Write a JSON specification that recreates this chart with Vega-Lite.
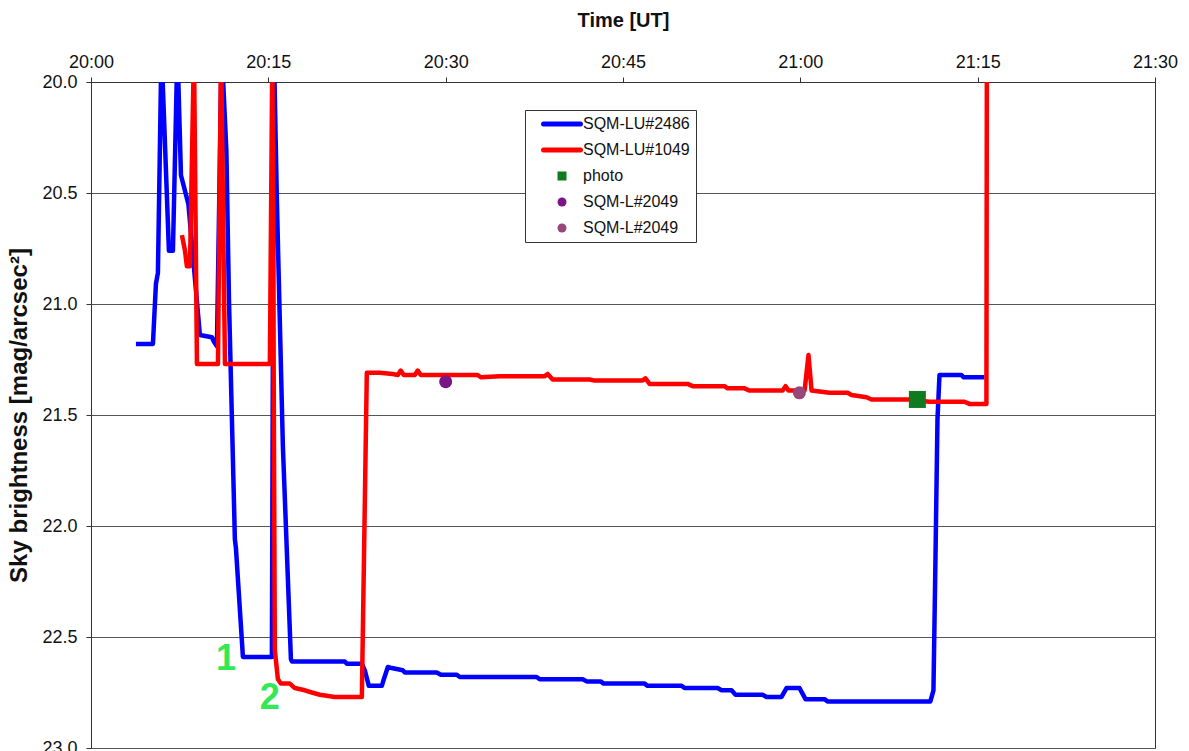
{
  "$schema": "https://vega.github.io/schema/vega-lite/v6.json",
  "autosize": "none",
  "width": 1064,
  "height": 666,
  "padding": {"left": 91, "top": 82, "right": 34, "bottom": 3},
  "background": "white",
  "config": {
    "font": "Liberation Sans",
    "view": {"stroke": "#333333", "strokeWidth": 1},
    "axis": {"labelFont": "Liberation Sans", "titleFont": "Liberation Sans", "labelColor": "#111", "titleColor": "#111", "domainColor": "#333", "tickColor": "#333", "tickSize": 5}
  },
  "datasets": {
    "series": [
      {"series": "SQM-LU#2486", "t": 3.80, "v": 21.18},
      {"series": "SQM-LU#2486", "t": 5.24, "v": 21.18},
      {"series": "SQM-LU#2486", "t": 5.49, "v": 20.91},
      {"series": "SQM-LU#2486", "t": 5.66, "v": 20.86},
      {"series": "SQM-LU#2486", "t": 5.96, "v": 19.85},
      {"series": "SQM-LU#2486", "t": 6.59, "v": 20.76},
      {"series": "SQM-LU#2486", "t": 6.93, "v": 20.76},
      {"series": "SQM-LU#2486", "t": 7.31, "v": 19.85},
      {"series": "SQM-LU#2486", "t": 7.61, "v": 20.42},
      {"series": "SQM-LU#2486", "t": 8.24, "v": 20.55},
      {"series": "SQM-LU#2486", "t": 9.21, "v": 21.14},
      {"series": "SQM-LU#2486", "t": 10.23, "v": 21.15},
      {"series": "SQM-LU#2486", "t": 10.40, "v": 21.17},
      {"series": "SQM-LU#2486", "t": 10.65, "v": 21.19},
      {"series": "SQM-LU#2486", "t": 11.05, "v": 19.85},
      {"series": "SQM-LU#2486", "t": 11.45, "v": 20.31},
      {"series": "SQM-LU#2486", "t": 11.67, "v": 20.98},
      {"series": "SQM-LU#2486", "t": 11.92, "v": 21.52},
      {"series": "SQM-LU#2486", "t": 12.17, "v": 22.06},
      {"series": "SQM-LU#2486", "t": 12.26, "v": 22.10},
      {"series": "SQM-LU#2486", "t": 12.85, "v": 22.59},
      {"series": "SQM-LU#2486", "t": 15.30, "v": 22.59},
      {"series": "SQM-LU#2486", "t": 15.47, "v": 19.85},
      {"series": "SQM-LU#2486", "t": 15.72, "v": 20.53},
      {"series": "SQM-LU#2486", "t": 16.23, "v": 21.64},
      {"series": "SQM-LU#2486", "t": 16.91, "v": 22.60},
      {"series": "SQM-LU#2486", "t": 16.99, "v": 22.61},
      {"series": "SQM-LU#2486", "t": 21.47, "v": 22.61},
      {"series": "SQM-LU#2486", "t": 21.64, "v": 22.62},
      {"series": "SQM-LU#2486", "t": 22.91, "v": 22.62},
      {"series": "SQM-LU#2486", "t": 23.16, "v": 22.65},
      {"series": "SQM-LU#2486", "t": 23.50, "v": 22.72},
      {"series": "SQM-LU#2486", "t": 24.60, "v": 22.72},
      {"series": "SQM-LU#2486", "t": 24.77, "v": 22.69},
      {"series": "SQM-LU#2486", "t": 25.11, "v": 22.635},
      {"series": "SQM-LU#2486", "t": 25.44, "v": 22.64},
      {"series": "SQM-LU#2486", "t": 26.37, "v": 22.65},
      {"series": "SQM-LU#2486", "t": 26.54, "v": 22.66},
      {"series": "SQM-LU#2486", "t": 29.25, "v": 22.66},
      {"series": "SQM-LU#2486", "t": 29.59, "v": 22.67},
      {"series": "SQM-LU#2486", "t": 30.94, "v": 22.67},
      {"series": "SQM-LU#2486", "t": 31.19, "v": 22.68},
      {"series": "SQM-LU#2486", "t": 37.70, "v": 22.68},
      {"series": "SQM-LU#2486", "t": 37.95, "v": 22.69},
      {"series": "SQM-LU#2486", "t": 41.59, "v": 22.69},
      {"series": "SQM-LU#2486", "t": 41.93, "v": 22.70},
      {"series": "SQM-LU#2486", "t": 43.11, "v": 22.70},
      {"series": "SQM-LU#2486", "t": 43.36, "v": 22.71},
      {"series": "SQM-LU#2486", "t": 46.83, "v": 22.71},
      {"series": "SQM-LU#2486", "t": 47.08, "v": 22.72},
      {"series": "SQM-LU#2486", "t": 49.96, "v": 22.72},
      {"series": "SQM-LU#2486", "t": 50.21, "v": 22.73},
      {"series": "SQM-LU#2486", "t": 53.00, "v": 22.73},
      {"series": "SQM-LU#2486", "t": 53.34, "v": 22.74},
      {"series": "SQM-LU#2486", "t": 54.18, "v": 22.74},
      {"series": "SQM-LU#2486", "t": 54.52, "v": 22.76},
      {"series": "SQM-LU#2486", "t": 56.80, "v": 22.76},
      {"series": "SQM-LU#2486", "t": 57.14, "v": 22.77},
      {"series": "SQM-LU#2486", "t": 58.41, "v": 22.77},
      {"series": "SQM-LU#2486", "t": 58.83, "v": 22.73},
      {"series": "SQM-LU#2486", "t": 59.93, "v": 22.73},
      {"series": "SQM-LU#2486", "t": 60.44, "v": 22.78},
      {"series": "SQM-LU#2486", "t": 62.05, "v": 22.78},
      {"series": "SQM-LU#2486", "t": 62.30, "v": 22.79},
      {"series": "SQM-LU#2486", "t": 71.00, "v": 22.79},
      {"series": "SQM-LU#2486", "t": 71.26, "v": 22.74},
      {"series": "SQM-LU#2486", "t": 71.43, "v": 22.15},
      {"series": "SQM-LU#2486", "t": 71.60, "v": 21.52},
      {"series": "SQM-LU#2486", "t": 71.77, "v": 21.32},
      {"series": "SQM-LU#2486", "t": 73.63, "v": 21.32},
      {"series": "SQM-LU#2486", "t": 73.80, "v": 21.33},
      {"series": "SQM-LU#2486", "t": 75.57, "v": 21.33},
      {"series": "SQM-LU#1049", "t": 7.69, "v": 20.69},
      {"series": "SQM-LU#1049", "t": 7.95, "v": 20.76},
      {"series": "SQM-LU#1049", "t": 8.11, "v": 20.83},
      {"series": "SQM-LU#1049", "t": 8.37, "v": 20.83},
      {"series": "SQM-LU#1049", "t": 8.71, "v": 19.85},
      {"series": "SQM-LU#1049", "t": 8.96, "v": 21.27},
      {"series": "SQM-LU#1049", "t": 10.74, "v": 21.27},
      {"series": "SQM-LU#1049", "t": 11.00, "v": 19.85},
      {"series": "SQM-LU#1049", "t": 11.33, "v": 21.27},
      {"series": "SQM-LU#1049", "t": 15.13, "v": 21.27},
      {"series": "SQM-LU#1049", "t": 15.34, "v": 19.85},
      {"series": "SQM-LU#1049", "t": 15.55, "v": 22.56},
      {"series": "SQM-LU#1049", "t": 15.81, "v": 22.69},
      {"series": "SQM-LU#1049", "t": 16.06, "v": 22.71},
      {"series": "SQM-LU#1049", "t": 16.82, "v": 22.71},
      {"series": "SQM-LU#1049", "t": 17.24, "v": 22.73},
      {"series": "SQM-LU#1049", "t": 18.09, "v": 22.74},
      {"series": "SQM-LU#1049", "t": 18.68, "v": 22.75},
      {"series": "SQM-LU#1049", "t": 19.36, "v": 22.76},
      {"series": "SQM-LU#1049", "t": 20.63, "v": 22.77},
      {"series": "SQM-LU#1049", "t": 22.91, "v": 22.77},
      {"series": "SQM-LU#1049", "t": 23.33, "v": 21.31},
      {"series": "SQM-LU#1049", "t": 24.43, "v": 21.31},
      {"series": "SQM-LU#1049", "t": 25.53, "v": 21.315},
      {"series": "SQM-LU#1049", "t": 25.95, "v": 21.32},
      {"series": "SQM-LU#1049", "t": 26.20, "v": 21.30},
      {"series": "SQM-LU#1049", "t": 26.46, "v": 21.32},
      {"series": "SQM-LU#1049", "t": 27.39, "v": 21.32},
      {"series": "SQM-LU#1049", "t": 27.64, "v": 21.30},
      {"series": "SQM-LU#1049", "t": 27.90, "v": 21.32},
      {"series": "SQM-LU#1049", "t": 32.71, "v": 21.32},
      {"series": "SQM-LU#1049", "t": 32.97, "v": 21.33},
      {"series": "SQM-LU#1049", "t": 34.57, "v": 21.325},
      {"series": "SQM-LU#1049", "t": 38.38, "v": 21.325},
      {"series": "SQM-LU#1049", "t": 38.63, "v": 21.315},
      {"series": "SQM-LU#1049", "t": 39.05, "v": 21.34},
      {"series": "SQM-LU#1049", "t": 42.18, "v": 21.34},
      {"series": "SQM-LU#1049", "t": 42.60, "v": 21.345},
      {"series": "SQM-LU#1049", "t": 46.66, "v": 21.345},
      {"series": "SQM-LU#1049", "t": 46.90, "v": 21.335},
      {"series": "SQM-LU#1049", "t": 47.25, "v": 21.36},
      {"series": "SQM-LU#1049", "t": 50.47, "v": 21.36},
      {"series": "SQM-LU#1049", "t": 50.89, "v": 21.37},
      {"series": "SQM-LU#1049", "t": 53.59, "v": 21.37},
      {"series": "SQM-LU#1049", "t": 53.85, "v": 21.38},
      {"series": "SQM-LU#1049", "t": 55.28, "v": 21.38},
      {"series": "SQM-LU#1049", "t": 55.71, "v": 21.39},
      {"series": "SQM-LU#1049", "t": 58.50, "v": 21.39},
      {"series": "SQM-LU#1049", "t": 58.75, "v": 21.37},
      {"series": "SQM-LU#1049", "t": 59.00, "v": 21.39},
      {"series": "SQM-LU#1049", "t": 60.36, "v": 21.39},
      {"series": "SQM-LU#1049", "t": 60.69, "v": 21.23},
      {"series": "SQM-LU#1049", "t": 60.95, "v": 21.39},
      {"series": "SQM-LU#1049", "t": 62.47, "v": 21.40},
      {"series": "SQM-LU#1049", "t": 64.00, "v": 21.40},
      {"series": "SQM-LU#1049", "t": 64.33, "v": 21.41},
      {"series": "SQM-LU#1049", "t": 65.60, "v": 21.42},
      {"series": "SQM-LU#1049", "t": 66.02, "v": 21.43},
      {"series": "SQM-LU#1049", "t": 69.23, "v": 21.43},
      {"series": "SQM-LU#1049", "t": 70.92, "v": 21.44},
      {"series": "SQM-LU#1049", "t": 73.88, "v": 21.44},
      {"series": "SQM-LU#1049", "t": 74.30, "v": 21.45},
      {"series": "SQM-LU#1049", "t": 75.74, "v": 21.45},
      {"series": "SQM-LU#1049", "t": 75.80, "v": 19.0},
      {"series": "photo", "t": 69.9, "v": 21.43},
      {"series": "SQM-L#2049 (20:30)", "t": 30.0, "v": 21.35},
      {"series": "SQM-L#2049 (21:00)", "t": 59.92, "v": 21.40}
    ],
    "labels": [
      {"label": "1", "t": 11.41, "v": 22.6},
      {"label": "2", "t": 15.13, "v": 22.775}
    ]
  },
  "data": {"name": "series"},
  "encoding": {
    "x": {
      "field": "t", "type": "quantitative",
      "scale": {"domain": [0, 90], "nice": false, "zero": false},
      "axis": {
        "orient": "top", "title": "Time [UT]", "values": [0, 15, 30, 45, 60, 75, 90],
        "labelExpr": "(datum.value < 60 ? '20:' : '21:') + (datum.value % 60 < 10 ? '0' : '') + (datum.value % 60)",
        "grid": false, "labelFontSize": 18, "labelPadding": 6, "titleFontSize": 20, "titleFontWeight": "bold", "titlePadding": 23, "labelFlush": false
      }
    },
    "y": {
      "field": "v", "type": "quantitative",
      "scale": {"domain": [20, 23], "reverse": true, "nice": false, "zero": false},
      "axis": {
        "title": "Sky brightness [mag/arcsec²]", "values": [20, 20.5, 21, 21.5, 22, 22.5, 23], "format": ".1f",
        "grid": true, "gridColor": "#555", "gridWidth": 1, "labelFontSize": 18, "labelPadding": 9,
        "titleFontSize": 24, "titleFontWeight": "bold", "titlePadding": 10, "labelFlush": false
      }
    },
    "color": {
      "field": "series", "type": "nominal",
      "scale": {
        "domain": ["SQM-LU#2486", "SQM-LU#1049", "photo", "SQM-L#2049 (20:30)", "SQM-L#2049 (21:00)"],
        "range": ["#0000FF", "#FF0000", "#0F7A1F", "#7A1585", "#98477A"]
      },
      "legend": {
        "title": null, "orient": "none", "legendX": 434, "legendY": 28,
        "padding": 6, "strokeColor": "#333", "fillColor": "white",
        "labelFontSize": 16, "labelFont": "Liberation Sans", "labelColor": "#111",
        "rowPadding": 10, "clipHeight": 16, "symbolSize": 81, "symbolOffset": 23, "labelOffset": 13,
        "labelExpr": "(indexof(datum.label, ' (') > 0 ? substring(datum.label, 0, indexof(datum.label, ' (')) : datum.label) + '\u00a0\u00a0\u00a0\u00a0\u00a0\u00a0\u00a0'",
        "encode": {
          "symbols": {
            "update": {
              "shape": {"signal": "(datum.value == 'SQM-LU#2486' || datum.value == 'SQM-LU#1049') ? 'M-4.1,0H4.1' : (datum.value == 'photo' ? 'square' : 'circle')"},
              "strokeWidth": {"signal": "(datum.value == 'SQM-LU#2486' || datum.value == 'SQM-LU#1049') ? 5 : 0"},
              "fill": {"scale": "color", "field": "value"},
              "stroke": {"scale": "color", "field": "value"},
              "strokeCap": {"value": "round"},
              "opacity": {"value": 1}
            }
          }
        }
      }
    }
  },
  "layer": [
    {
      "transform": [{"filter": "datum.series == 'SQM-LU#2486'"}],
      "mark": {"type": "line", "strokeWidth": 4.5, "clip": true, "strokeJoin": "round"},
      "encoding": {"order": {"value": null}}
    },
    {
      "transform": [{"filter": "datum.series == 'SQM-LU#1049'"}],
      "mark": {"type": "line", "strokeWidth": 4.5, "clip": true, "strokeJoin": "round"},
      "encoding": {"order": {"value": null}}
    },
    {
      "transform": [{"filter": "datum.series == 'photo'"}],
      "mark": {"type": "point", "shape": "square", "filled": true, "size": 289, "opacity": 1}
    },
    {
      "transform": [{"filter": "indexof(datum.series, 'SQM-L#2049') == 0"}],
      "mark": {"type": "point", "shape": "circle", "filled": true, "size": 169, "opacity": 1}
    },
    {
      "data": {"name": "labels"},
      "mark": {"type": "text", "font": "Liberation Sans", "fontWeight": "bold", "fontSize": 36, "align": "center", "baseline": "middle", "color": "#33E855"},
      "encoding": {"text": {"field": "label"}, "color": {"value": "#33E855"}}
    }
  ]
}
